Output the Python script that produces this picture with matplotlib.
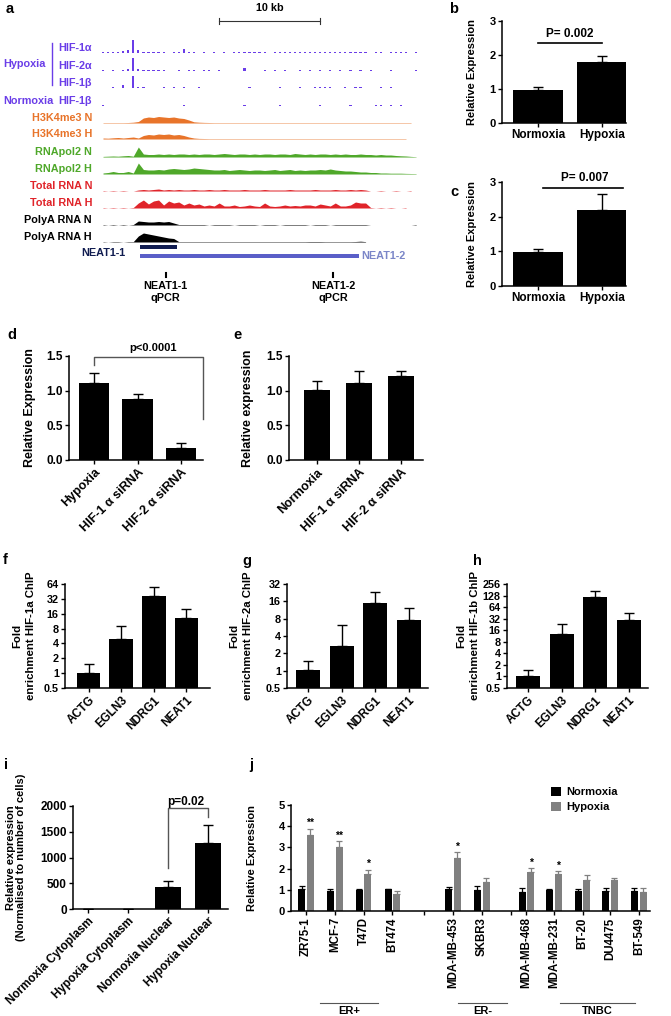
import numpy as np
import matplotlib
matplotlib.use('Agg')
import matplotlib.pyplot as plt
from matplotlib.patches import Patch
from matplotlib import font_manager

# ---- data ----
# panel a, genome browser tracks (signal per 0.5 kb bin, height in px)
hif1a = [0.8, 0.8, 0.8, 0.8, 2, 3, 13, 3, 1, 0.8, 0.8, 0.8, 0.8, 0, 0.8, 1.5, 4, 1.5, 0.8, 0, 0.8, 0,
         0.8, 0, 0.8, 0, 0.8, 0.8, 1.5, 0.8, 1.5, 0.8, 0.8, 0, 0.8, 0.8, 1, 0.8, 0.8, 0.8, 1.2, 0.8, 0.8,
         1, 0.8, 0.8, 1.2, 0.8, 0.8, 1.5, 0.8, 1.5, 0.8, 0, 0.8, 0.8, 0, 0.8, 0.8, 0.8, 0.8, 0, 0.8]
hif2a = [1, 0, 1, 0, 1.5, 2, 13, 2, 0.8, 1, 0.8, 0.8, 1.5, 0, 0, 0.8, 0, 0.8, 0.8, 0, 0.8, 0.8, 0, 1.2,
         0, 0, 0, 0, 3, 0, 0, 0, 0.8, 0, 0.8, 0, 0.8, 0, 0, 0.8, 0, 0.8, 0, 0.8, 0, 1, 0, 0.8, 0, 1.2,
         0, 1.5, 0, 0.8, 0, 0, 0, 0.8, 0, 0, 0, 0, 0.8]
hif1b = [0, 0, 1, 0, 3, 0, 12, 1.5, 1, 0, 0, 0, 0.8, 0, 0.8, 0, 0.8, 0, 0, 0.8, 0, 0, 0, 0, 0, 0, 0, 0,
         0, 1.5, 0, 0, 0, 0, 0, 0.8, 0, 0, 0, 0.8, 0, 0, 0.8, 0.8, 0.8, 0.8, 0, 0, 0.8, 0, 1, 0.8, 0,
         0, 0, 0.8, 0, 0.8]
norm_hif1b = [0.7, 0, 0, 0, 0, 0, 0, 0, 0, 0, 0, 0, 0, 0, 0, 0, 0.7, 0, 0, 0, 0, 0, 0, 0, 0, 0, 0, 0,
              0.7, 0, 0, 0, 0, 0, 0, 0.7, 0, 0, 0, 0, 0, 0, 0, 0.7, 0, 0, 0, 0, 0, 0.7, 0, 0, 0, 0,
              0.7, 0.7, 0, 0.7, 0, 0.7]
h3k4_n = [0.4, 0.4, 0.4, 0.4, 0.4, 0.5, 0.8, 1.5, 5, 6, 5.5, 6.5, 6, 5.5, 6, 5, 4.5, 3, 1.2, 0.8, 0.6,
          0.5] + [0.4] * 40
h3k4_h = [1, 0.8, 1.2, 1.5, 1, 1.5, 2, 1, 3.5, 4.5, 4, 5, 4.5, 5, 4, 4.5, 3.5, 2, 1, 0.6, 0.5] + [0.4] * 40
pol2_n = [0.6, 0.8, 1, 0.8, 1.2, 1.5, 0.8, 10, 3, 2.5, 2.5, 3, 2.5, 3, 2.5, 3, 3, 2.5, 3, 2.5, 3, 3, 2.5,
          3, 3.5, 3, 2.5, 3, 3, 2.5, 3, 2.5, 3, 3, 2.5, 3, 3, 2.5, 3.5, 3, 2.5, 3, 2.5, 3, 3, 2.5, 3,
          2.5, 3, 2.5, 2.5, 3, 2.5, 2.5, 2, 2.5, 2, 2, 1.5, 1.2, 1, 0.6, 0.3]
pol2_h = [1, 1.5, 2.5, 1.5, 1.5, 2.5, 1, 11, 4.5, 4, 4, 4.5, 4, 5, 5.5, 5, 4.5, 5, 6, 5.5, 5, 4.5, 4, 4,
          4.5, 3.5, 4, 4.5, 4, 3.5, 4, 4, 3.5, 4, 4.5, 3.5, 4, 4.5, 3.5, 4, 3.5, 4, 4, 4.5, 4, 5, 4,
          3.5, 3, 3, 2.5, 2, 2, 1.5, 1.5, 1, 1, 0.8, 0.8, 0.8, 0.6, 0.5, 0.4]
total_n = [0.5, 0, 0.5, 0, 0.5, 0, 0, 1, 1.5, 1, 1.5, 2, 1, 1.5, 1, 1.5, 1, 1, 1.5, 1, 1, 1.5, 1, 1, 1.5,
           1, 1, 1, 1.5, 1, 1, 1, 1.5, 1, 1, 1, 1, 1.5, 1, 1, 1, 1, 1.5, 1, 1, 1, 1.5, 1, 1, 1.5, 1, 1.5,
           1, 0, 0, 0.5, 0, 0, 0.5, 0, 0, 0.5]
total_h = [0.5, 0, 0.5, 0, 0.5, 0, 0.5, 5, 8, 4, 7, 8, 3, 7, 5, 6, 3, 5, 3, 4, 2, 3, 2, 5, 2, 2, 3, 1.5, 2,
           3, 2, 1.5, 5, 2, 1.5, 2, 3, 2, 2.5, 2, 3, 3, 2, 4, 3, 2, 5, 2, 2, 3, 6, 5, 5, 0.5, 0, 0.5, 0,
           0.5, 0, 0, 0.5]
polya_n = [0.5, 0, 0.5, 0, 0.5, 0, 0.5, 4, 3.5, 3, 3, 3.5, 3, 3.5, 2, 0.5, 0.5, 0.5, 0.5, 0.5, 0.5, 0,
           0.5, 0.5, 0.5, 0.5, 0, 0.5, 0.5, 0.5, 0.5, 0, 0.5, 0.5, 0.5, 0, 0.5, 0.5, 0.5, 0.5, 0.5, 0,
           0.5, 0.5, 0.5, 0, 0.5, 0.5, 0.5, 0.5, 0.5, 0.5, 0.5, 0, 0, 0, 0, 0, 0, 0, 0, 0, 0.5]
polya_h = [0.4, 0, 0.4, 0.4, 0, 0.4, 0.4, 6, 9, 8, 7, 6, 5, 4, 3.5, 0.4, 0.4, 0.4, 0.4, 0.4, 0.4, 0.4,
           0.4, 0.4, 0.4, 0.4, 0.4, 0.4, 0.4, 0.4, 0.4, 0.4, 0.4, 0.4, 0.4, 0.4, 0.4, 0.4, 0.4, 0.4,
           0.4, 0.5, 0.5, 0.5, 0.4, 0.4, 0.4, 0.4, 0.4, 0.4, 0.5, 0.8, 0.4]
neat1_1 = (3.66, 7.3)      # kb
neat1_2 = (3.66, 25.3)
qpcr_kb = [6.2, 22.8]
qpcr_names = ['NEAT1-1\nqPCR', 'NEAT1-2\nqPCR']

# panel b, c
bc_groups = ['Normoxia', 'Hypoxia']
b_vals = [0.97, 1.79]
b_sem = [0.09, 0.18]
c_vals = [0.97, 2.2]
c_sem = [0.11, 0.45]

# panel d, e
d_labels = ['Hypoxia', 'HIF-1 α siRNA', 'HIF-2 α siRNA']
d_vals = [1.11, 0.88, 0.18]
d_sem = [0.14, 0.07, 0.06]
e_labels = ['Normoxia', 'HIF-1 α siRNA', 'HIF-2 α siRNA']
e_vals = [1.01, 1.11, 1.21]
e_sem = [0.13, 0.17, 0.08]

# panel f, g, h (ChIP fold enrichment, value and top of error bar)
chip_genes = ['ACTG', 'EGLN3', 'NDRG1', 'NEAT1']
f_vals = [1.03, 5.0, 37, 13]
f_top = [1.53, 9.0, 55, 20]
g_vals = [1.01, 2.7, 15, 7.6]
g_top = [1.5, 6.1, 23, 12.3]
h_vals = [1.01, 13, 114, 30]
h_top = [1.44, 23, 170, 45]

# panel i
i_labels = ['Normoxia Cytoplasm', 'Hypoxia Cytoplasm', 'Normoxia Nuclear', 'Hypoxia Nuclear']
i_vals = [6, 6, 418, 1290]
i_sem = [0, 0, 135, 335]

# panel j
j_lines = ['ZR75-1', 'MCF-7', 'T47D', 'BT474', 'MDA-MB-453', 'SKBR3', 'MDA-MB-468', 'MDA-MB-231',
           'BT-20', 'DU4475', 'BT-549']
j_norm = [1.02, 0.96, 0.99, 1.02, 1.02, 0.97, 0.88, 0.97, 0.94, 0.94, 0.94]
j_norm_sem = [0.18, 0.07, 0.04, 0.02, 0.12, 0.2, 0.2, 0.07, 0.12, 0.13, 0.14]
j_hyp = [3.58, 3.0, 1.75, 0.79, 2.5, 1.38, 1.82, 1.75, 1.46, 1.46, 0.91]
j_hyp_sem = [0.3, 0.3, 0.2, 0.17, 0.27, 0.17, 0.2, 0.12, 0.22, 0.1, 0.17]
j_stars = ['**', '**', '*', '', '*', '', '*', '*', '', '', '']
j_groups = ['ER+', 'ER-', 'TNBC']

# ---- layout ----
W, H = 671, 1016
names = {f.name for f in font_manager.fontManager.ttflist}
narrow = 'Liberation Sans Narrow' if 'Liberation Sans Narrow' in names else 'Liberation Sans'
plt.rcParams['font.family'] = ['Liberation Sans', 'DejaVu Sans']
plt.rcParams['font.weight'] = 'bold'
plt.rcParams['axes.labelweight'] = 'bold'
plt.rcParams['axes.linewidth'] = 1.1

fig = plt.figure(figsize=(W / 100, H / 100), dpi=100)

ov = fig.add_axes([0, 0, 1, 1])
ov.set_xlim(0, W)
ov.set_ylim(H, 0)
ov.axis('off')


def add_ax(l, t, r, b, size=8):
    ax = fig.add_axes([l / W, 1 - b / H, (r - l) / W, (b - t) / H])
    ax.px = (l, t, r, b)
    for s in ['top', 'right']:
        ax.spines[s].set_visible(False)
    ax.tick_params(direction='out', length=3, width=1, labelsize=size, pad=1.5)
    return ax


def ylab(ax, text, xpx, size=8, fam=None, ls=1.1):
    l, t, r, b = ax.px
    ax.set_ylabel(text, fontsize=size, family=fam, linespacing=ls, va='center')
    ax.yaxis.set_label_coords((xpx - l) / (r - l), 0.5)


def bars(ax, vals, sem, width, color='black'):
    x = np.arange(len(vals))
    ax.bar(x, vals, width=width, color=color, zorder=2)
    ax.errorbar(x, vals, yerr=[np.zeros(len(vals)), sem], fmt='none', ecolor=color,
                elinewidth=1, capsize=3.5, capthick=1, zorder=1)
    ax.set_xticks(x)


letters = [('a', 6, 9), ('b', 449, 9), ('c', 450, 192), ('d', 7, 335), ('e', 233, 335),
           ('f', 3, 560), ('g', 242, 561), ('h', 473, 561), ('i', 4, 765), ('j', 249, 765)]
for t, x, y in letters:
    ov.text(x, y, t, fontsize=10.5, fontweight='bold', va='center', ha='left')

# ---- panel a ----
purple = '#6a3de8'
orange = '#e8742a'
green = '#4fa82a'
red = '#e0242a'


def kb2px(kb):
    return 103 + np.asarray(kb, dtype=float) * 10.1


tracks = [('HIF-1α', hif1a, 53, purple, 'bar'), ('HIF-2α', hif2a, 71, purple, 'bar'),
          ('HIF-1β', hif1b, 88, purple, 'bar'), ('HIF-1β', norm_hif1b, 106, purple, 'bar'),
          ('H3K4me3 N', h3k4_n, 123, orange, 'fill'), ('H3K4me3 H', h3k4_h, 139, orange, 'fill'),
          ('RNApol2 N', pol2_n, 157, green, 'fill'), ('RNApol2 H', pol2_h, 174, green, 'fill'),
          ('Total RNA N', total_n, 191, red, 'fill'), ('Total RNA H', total_h, 208, red, 'fill'),
          ('PolyA RNA N', polya_n, 225, 'black', 'fill'), ('PolyA RNA H', polya_h, 242, 'black', 'fill')]
for name, v, base, col, kind in tracks:
    v = np.array(v, dtype=float)
    x = kb2px(np.arange(len(v)) * 0.5)
    if kind == 'bar':
        ov.bar(x, -v, bottom=base, width=2.2, color=col, lw=0)
    else:
        ov.fill_between(x, base, base - v, color=col, lw=0)
    ov.text(92, base - 5, name, color=col, fontsize=7.8, ha='right', va='center')

ov.text(3, 64, 'Hypoxia', color=purple, fontsize=7.8, va='center')
ov.text(3, 101, 'Normoxia', color=purple, fontsize=7.8, va='center')
ov.plot([52, 52], [43, 85], color=purple, lw=1)

# scale bar 10 kb
sb = kb2px([11.5, 21.5])
ov.plot(sb, [21, 21], color='#333333', lw=0.8)
for xx in sb:
    ov.plot([xx, xx], [18, 24], color='#333333', lw=0.8)
ov.text(sb.mean(), 8, '10 kb', fontsize=7.8, ha='center', va='center')

g1 = kb2px(neat1_1)
g2 = kb2px(neat1_2)
ov.fill_between(g1, 245, 249, color='#101c50', lw=0)
ov.fill_between(g2, 254, 258, color='#5a5fc8', lw=0)
ov.text(125, 253, 'NEAT1-1', color='#101c50', fontsize=7.8, ha='right', va='center')
ov.text(g2[1] + 3, 256, 'NEAT1-2', color='#7b86c8', fontsize=7.8, ha='left', va='center')
for xx, nm in zip(kb2px(qpcr_kb), qpcr_names):
    ov.plot([xx, xx], [273, 277], color='black', lw=1.5)
    ov.text(xx, 281, nm, fontsize=7.8, ha='center', va='top', linespacing=1.2)

# ---- panel b ----
ax = add_ax(502, 21, 626, 123)
bars(ax, b_vals, b_sem, 0.77)
ax.set_xlim(-0.5625, 1.375)
ax.set_ylim(0, 3)
ax.set_yticks([0, 1, 2, 3])
ax.set_xticklabels(bc_groups, fontsize=8.5)
ylab(ax, 'Relative Expression', 472)
ax.plot([0, 1], [2.35, 2.35], color='black', lw=1.2)
ax.text(0.5, 2.45, 'P= 0.002', fontsize=8.5, ha='center', va='bottom')

# ---- panel c ----
ax = add_ax(502, 182, 626, 286)
bars(ax, c_vals, c_sem, 0.77)
ax.set_xlim(-0.5625, 1.375)
ax.set_ylim(0, 3)
ax.set_yticks([0, 1, 2, 3])
ax.set_xticklabels(bc_groups, fontsize=8.5)
ylab(ax, 'Relative Expression', 472)
ax.plot([0.08, 1.33], [2.83, 2.83], color='black', lw=1.2, clip_on=False)
ax.text(0.73, 2.93, 'P= 0.007', fontsize=8.5, ha='center', va='bottom', clip_on=False)

# ---- panel d ----
ax = add_ax(69, 356, 203, 460)
bars(ax, d_vals, d_sem, 0.69)
ax.set_xlim(-0.575, 2.506)
ax.set_ylim(0, 1.5)
ax.set_yticks([0, 0.5, 1.0, 1.5])
ax.set_yticklabels(['0.0', '0.5', '1.0', '1.5'], family=narrow, fontsize=8.5)
ax.set_xticklabels(d_labels, rotation=45, ha='right', rotation_mode='anchor', fontsize=9, family=narrow)
ylab(ax, 'Relative Expression', 30, fam=narrow, size=9)
ax.plot([0, 0, 2.5, 2.5], [1.37, 1.49, 1.49, 0.59], color='#555555', lw=1, clip_on=False)
ax.text(1.35, 1.55, 'p<0.0001', fontsize=8, family=narrow, ha='center', va='bottom')

# ---- panel e ----
ax = add_ax(289, 356, 423, 460)
bars(ax, e_vals, e_sem, 0.64)
ax.set_xlim(-0.667, 2.524)
ax.set_ylim(0, 1.5)
ax.set_yticks([0, 0.5, 1.0, 1.5])
ax.set_yticklabels(['0.0', '0.5', '1.0', '1.5'], family=narrow, fontsize=8.5)
ax.set_xticklabels(e_labels, rotation=45, ha='right', rotation_mode='anchor', fontsize=9, family=narrow)
ylab(ax, 'Relative expression', 248, fam=narrow, size=9)

# ---- panels f, g, h ----
chip = [((65, 584, 210, 688), f_vals, f_top, (-0.72, 3.72), 64, 'HIF-1a', 24),
        ((287, 584, 428, 688), g_vals, g_top, (-0.63, 3.58), 32, 'HIF-2a', 241),
        ((507, 584, 648, 688), h_vals, h_top, (-0.63, 3.57), 256, 'HIF-1b', 468)]
for rect, vals, top, xl, ymax, nm, lx in chip:
    ax = add_ax(*rect)
    x = np.arange(len(vals))
    vals = np.array(vals, dtype=float)
    ax.set_yscale('log', base=2)
    ax.bar(x, vals - 0.5, bottom=0.5, width=0.72, color='black', zorder=2)
    ax.errorbar(x, vals, yerr=[np.zeros(len(vals)), np.array(top) - vals], fmt='none', ecolor='black',
                elinewidth=1, capsize=3.5, capthick=1, zorder=1)
    ax.set_xlim(*xl)
    ax.set_ylim(0.5, ymax)
    ticks = [0.5 * 2 ** k for k in range(int(np.log2(ymax / 0.5)) + 1)]
    ax.set_yticks(ticks)
    ax.set_yticklabels(['0.5'] + [str(int(t)) for t in ticks[1:]], family=narrow, fontsize=7.8)
    ax.minorticks_off()
    ax.set_xticks(x)
    ax.set_xticklabels(chip_genes, rotation=45, ha='right', rotation_mode='anchor', fontsize=8.5)
    ylab(ax, 'Fold\nenrichment ' + nm + ' ChIP', lx, fam=narrow, size=8.2, ls=1.5)

# ---- panel i ----
ax = add_ax(73, 806, 228, 909, size=8.5)
bars(ax, i_vals, i_sem, 0.67)
ax.set_xlim(-0.375, 3.5)
ax.set_ylim(0, 2000)
ax.set_yticks([0, 500, 1000, 1500, 2000])
ax.set_xticklabels(i_labels, rotation=45, ha='right', rotation_mode='anchor', fontsize=8.5)
ylab(ax, 'Relative expression\n(Normalised to number of cells)', 16, size=8, ls=1.0)
ax.plot([2, 2, 3, 3], [790, 1960, 1960, 1790], color='#555555', lw=1, clip_on=False)
ax.text(2.45, 2070, 'p=0.02', fontsize=8.5, ha='center', va='center', clip_on=False)

# ---- panel j ----
ax = add_ax(291, 805, 650, 911, size=8)
slots = np.array([0, 1, 2, 3, 5.1, 6.1, 7.65, 8.6, 9.6, 10.55, 11.55])
gap_ticks = [4.1, 7.1]
off = 0.15
ax.bar(slots - off, j_norm, width=0.24, color='black', zorder=2, label='Normoxia')
ax.bar(slots + off, j_hyp, width=0.24, color='#808080', zorder=2, label='Hypoxia')
ax.errorbar(slots - off, j_norm, yerr=[np.zeros(len(j_norm)), j_norm_sem], fmt='none', ecolor='black',
            elinewidth=0.9, capsize=2, capthick=0.9, zorder=1)
ax.errorbar(slots + off, j_hyp, yerr=[np.zeros(len(j_hyp)), j_hyp_sem], fmt='none', ecolor='#808080',
            elinewidth=0.9, capsize=2, capthick=0.9, zorder=1)
for xx, v, s, st in zip(slots + off, j_hyp, j_hyp_sem, j_stars):
    if st:
        ax.text(xx, v + s + 0.02, st, fontsize=7.5, ha='center', va='bottom')
ax.set_xlim(-0.52, 11.94)
ax.set_ylim(0, 5)
ax.set_yticks([0, 1, 2, 3, 4, 5])
ax.set_xticks(list(slots) + gap_ticks)
ax.set_xticklabels(j_lines + ['', ''], rotation=90, fontsize=8.3)
ylab(ax, 'Relative Expression', 252)
ax.legend(handles=[Patch(fc='black'), Patch(fc='#808080')], labels=['Normoxia', 'Hypoxia'],
          loc='upper left', bbox_to_anchor=(551 / W, 1 - 787 / H), bbox_transform=fig.transFigure,
          frameon=False, fontsize=8, handlelength=0.9, handleheight=0.9, handletextpad=0.5,
          labelspacing=0.4, borderpad=0, borderaxespad=0)

group_span = [(320, 378), (458, 507), (560, 635)]
for (x0, x1), nm in zip(group_span, j_groups):
    ov.plot([x0, x1], [1003, 1003], color='#555555', lw=0.8)
    ov.text((x0 + x1) / 2, 1011, nm, fontsize=8, ha='center', va='center')

fig.savefig('out.png', dpi=100)
